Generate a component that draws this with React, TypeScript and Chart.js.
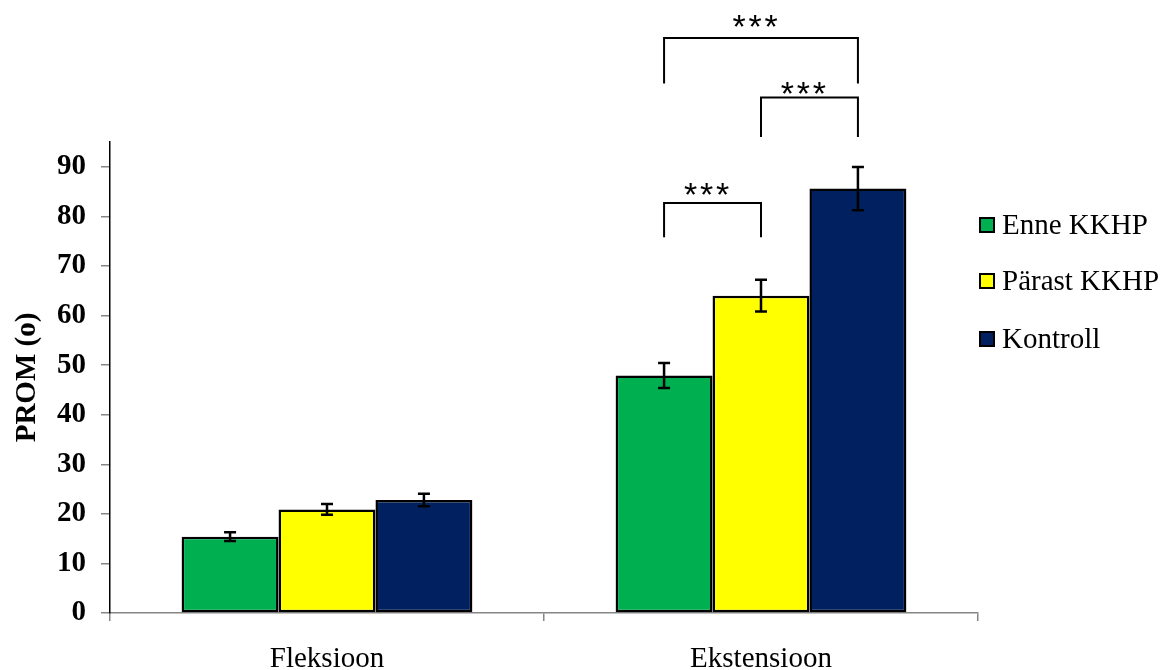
import React, { useEffect, useRef } from 'react';
import { Chart, registerables } from 'chart.js';

Chart.register(...registerables);

// ---- Data ----
const categories = ['Fleksioon', 'Ekstensioon'];
const seriesNames = ['Enne KKHP', 'Pärast KKHP', 'Kontroll'];
const seriesColors = ['#00B050', '#FFFF00', '#002060'];
const enneValues = [15.4, 47.9];
const parastValues = [20.9, 64.0];
const kontrollValues = [22.8, 85.6];
const enneErrors = [0.9, 2.5];
const parastErrors = [1.1, 3.2];
const kontrollErrors = [1.25, 4.35];
const yTickValues = [0, 10, 20, 30, 40, 50, 60, 70, 80, 90];
const yMax = 95;
// significance brackets: category index, series from/to, bracket top value, leg bottom value
const bracketCategory = [1, 1, 1];
const bracketFrom = [0, 1, 0];
const bracketTo = [2, 2, 1];
const bracketTop = [116, 104, 82.7];
const bracketLeg = [106.8, 96, 75.8];
const bracketText = [119.8, 106.4, 86.0];
const bracketLabel = ['***', '***', '***'];

const FONT = '"Liberation Serif", "Times New Roman", serif';
const STAR_FONT = '"Liberation Sans", Arial, sans-serif';

const errorBarPlugin = {
  id: 'errorBars',
  afterDatasetsDraw(chart: any) {
    const ctx = chart.ctx;
    const y = chart.scales.y;
    chart.data.datasets.forEach((ds: any, di: number) => {
      const meta = chart.getDatasetMeta(di);
      meta.data.forEach((bar: any, i: number) => {
        const v = ds.data[i];
        const e = ds.errors[i];
        const x = bar.x;
        const yt = y.getPixelForValue(v + e);
        const yb = y.getPixelForValue(v - e);
        ctx.save();
        ctx.strokeStyle = '#000';
        ctx.lineWidth = 2.5;
        ctx.beginPath();
        ctx.moveTo(x, yt);
        ctx.lineTo(x, yb);
        ctx.moveTo(x - 6, yt);
        ctx.lineTo(x + 6, yt);
        ctx.moveTo(x - 6, yb);
        ctx.lineTo(x + 6, yb);
        ctx.stroke();
        ctx.restore();
      });
    });
  },
};

const bracketPlugin = {
  id: 'brackets',
  afterDraw(chart: any) {
    const ctx = chart.ctx;
    const y = chart.scales.y;
    ctx.save();
    ctx.strokeStyle = '#000';
    ctx.lineWidth = 2;
    ctx.fillStyle = '#000';
    const size = 34;
    ctx.font = `${size}px ${STAR_FONT}`;
    ctx.textAlign = 'center';
    ctx.textBaseline = 'alphabetic';
    for (let k = 0; k < bracketCategory.length; k++) {
      const c = bracketCategory[k];
      const x1 = chart.getDatasetMeta(bracketFrom[k]).data[c].x;
      const x2 = chart.getDatasetMeta(bracketTo[k]).data[c].x;
      const yt = y.getPixelForValue(bracketTop[k]);
      const yl = y.getPixelForValue(bracketLeg[k]);
      ctx.beginPath();
      ctx.moveTo(x1, yl);
      ctx.lineTo(x1, yt);
      ctx.lineTo(x2, yt);
      ctx.lineTo(x2, yl);
      ctx.stroke();
      const ty = y.getPixelForValue(bracketText[k]);
      const chars = bracketLabel[k].split('');
      const cx = (x1 + x2) / 2 - 6;
      chars.forEach((ch, j) => {
        const dx = (j - (chars.length - 1) / 2) * 16;
        ctx.fillText(ch, cx + dx, ty + 0.57 * size);
      });
    }
    ctx.restore();
  },
};

const legendPlugin = {
  id: 'customLegend',
  afterDraw(chart: any) {
    const ctx = chart.ctx;
    const area = chart.chartArea;
    const x0 = area.right + 2;
    const rowY = [225, 281, 339];
    ctx.save();
    ctx.font = `29px ${FONT}`;
    ctx.textBaseline = 'middle';
    ctx.textAlign = 'left';
    chart.data.datasets.forEach((ds: any, i: number) => {
      const cy = rowY[i];
      ctx.fillStyle = ds.backgroundColor;
      ctx.fillRect(x0, cy - 7, 14, 14);
      ctx.strokeStyle = '#000';
      ctx.lineWidth = 2;
      ctx.strokeRect(x0, cy - 7, 14, 14);
      ctx.fillStyle = '#000';
      ctx.fillText(ds.label, x0 + 22, cy + 1);
    });
    ctx.restore();
  },
};

export default function App() {
  const ref = useRef<HTMLCanvasElement | null>(null);
  useEffect(() => {
    if (!ref.current) return;
    const values = [enneValues, parastValues, kontrollValues];
    const errors = [enneErrors, parastErrors, kontrollErrors];
    const chart = new Chart(ref.current, {
      type: 'bar',
      data: {
        labels: categories,
        datasets: seriesNames.map((name, i) => ({
          label: name,
          data: values[i],
          errors: errors[i],
          backgroundColor: seriesColors[i],
          borderColor: '#000',
          borderWidth: 2.5,
          borderSkipped: false,
          categoryPercentage: 0.67,
          barPercentage: 1.0,
        })) as any,
      },
      options: {
        responsive: false,
        animation: false,
        layout: { padding: { left: 0, right: 184, top: 142, bottom: 0 } },
        plugins: {
          legend: { display: false },
          tooltip: { enabled: false },
        },
        scales: {
          x: {
            grid: {
              offset: true,
              drawOnChartArea: false,
              drawTicks: true,
              tickLength: 8,
              color: '#868686',
              lineWidth: 1.5,
            },
            border: { color: '#868686', width: 1.5 },
            ticks: {
              color: '#000',
              font: { family: FONT, size: 29 },
              padding: 21,
            },
            afterFit: (scale: any) => {
              scale.height = 57;
            },
          },
          y: {
            min: 0,
            max: yMax,
            grid: {
              drawOnChartArea: false,
              drawTicks: true,
              tickLength: 9,
              color: '#868686',
              lineWidth: 1.5,
            },
            border: { color: '#000', width: 1.5 },
            ticks: {
              color: '#000',
              font: { family: FONT, size: 29, weight: 'bold' },
              padding: 15,
            },
            afterBuildTicks: (axis: any) => {
              axis.ticks = yTickValues.map((v) => ({ value: v }));
            },
            title: {
              display: true,
              text: 'PROM (o)',
              color: '#000',
              font: { family: FONT, size: 29, weight: 'bold' },
              padding: { top: 10, bottom: 0 },
            },
            afterFit: (scale: any) => {
              scale.width = 110;
            },
          },
        },
      },
      plugins: [errorBarPlugin, bracketPlugin, legendPlugin],
    });
    return () => chart.destroy();
  }, []);
  return (
    <div style={{ position: 'fixed', left: 0, top: 0, width: 1162, height: 670, background: '#fff' }}>
      <canvas ref={ref} width={1162} height={670} />
    </div>
  );
}
